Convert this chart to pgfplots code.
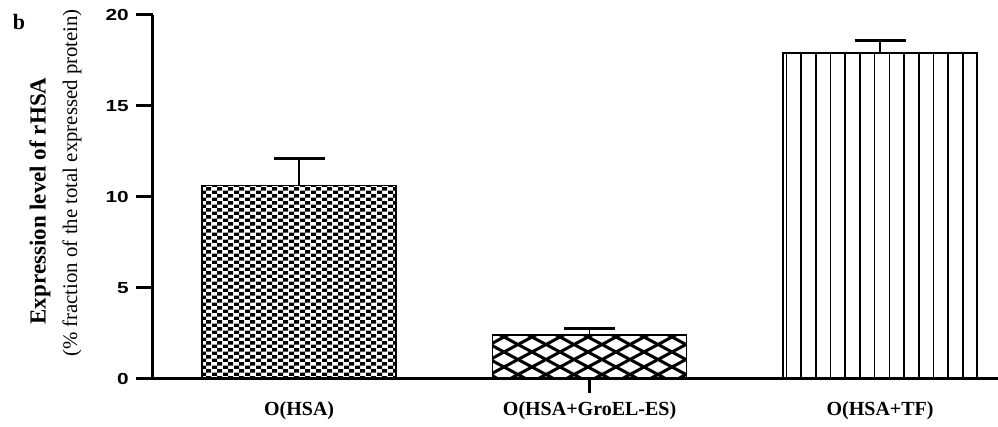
\documentclass[border=0pt]{standalone}
\usepackage{fontspec}
\setmainfont{Liberation Serif}
\newfontfamily\arial{Liberation Sans}
\usepackage{pgfplots}
\pgfplotsset{compat=1.18}
\usetikzlibrary{patterns}

\pgfdeclarepatternformonly{checker}{\pgfqpoint{0pt}{0pt}}{\pgfqpoint{10.6pt}{7.4pt}}{\pgfqpoint{10.6pt}{7.4pt}}{%
  \pgfpathrectangle{\pgfqpoint{0pt}{0pt}}{\pgfqpoint{5.3pt}{3.7pt}}%
  \pgfpathrectangle{\pgfqpoint{5.3pt}{3.7pt}}{\pgfqpoint{5.3pt}{3.7pt}}%
  \pgfusepath{fill}}

\pgfdeclarepatternformonly{diamondhatch}{\pgfqpoint{-2pt}{-2pt}}{\pgfqpoint{30pt}{17pt}}{\pgfqpoint{28pt}{15pt}}{%
  \pgfsetlinewidth{3pt}%
  \pgfpathmoveto{\pgfqpoint{-2pt}{-1.07pt}}\pgfpathlineto{\pgfqpoint{30pt}{16.07pt}}%
  \pgfpathmoveto{\pgfqpoint{-2pt}{16.07pt}}\pgfpathlineto{\pgfqpoint{30pt}{-1.07pt}}%
  \pgfusepath{stroke}}

\pgfdeclarepatternformonly{vlines}{\pgfqpoint{0pt}{-1pt}}{\pgfqpoint{14.7pt}{3pt}}{\pgfqpoint{14.7pt}{2pt}}{%
  \pgfsetlinewidth{1.6pt}%
  \pgfpathmoveto{\pgfqpoint{7.35pt}{-1pt}}\pgfpathlineto{\pgfqpoint{7.35pt}{3pt}}%
  \pgfusepath{stroke}}

\begin{document}
\begin{tikzpicture}
\begin{axis}[
  at={(0,0)}, anchor=south west,
  scale only axis, width=845pt, height=364pt,
  xmin=-0.503, xmax=2.406, ymin=0, ymax=20,
  axis x line*=bottom, axis y line*=left,
  axis line style={line width=3pt, -},
  ytick={0,5,10,15,20},
  xtick={0,1,2},
  xticklabels={O(HSA),O(HSA+GroEL-ES),O(HSA+TF)},
  x tick style={draw=none},
  y tick style={line width=3pt, black},
  tick align=outside,
  major tick length=17pt,
  /pgf/number format/assume math mode=true,
  yticklabel style={font=\arial\bfseries\fontsize{16}{16}\selectfont, xscale=1.3, xshift=-2pt},
  xticklabel style={font=\bfseries\fontsize{20}{20}\selectfont, yshift=-2pt},
  clip=false,
  error bars/y dir=plus, error bars/y explicit,
  error bars/error bar style={line width=1.5pt, black},
  error bars/error mark=|,
  error bars/error mark options={line width=3pt, mark size=25.5pt, black},
]
\addplot[ybar, bar width=194pt, bar shift=0pt, draw=black, line width=1.5pt, pattern=checker]
  coordinates {(0,10.63) +- (0,1.50)};
\addplot[ybar, bar width=194pt, bar shift=0pt, draw=black, line width=1.5pt, pattern=diamondhatch]
  coordinates {(1,2.42) +- (0,0.33)};
\addplot[ybar, bar width=194pt, bar shift=0pt, draw=black, line width=1.5pt, pattern=vlines]
  coordinates {(2,17.90) +- (0,0.70)};
\draw[line width=3pt] (axis cs:1,0) -- ([yshift=-14pt]axis cs:1,0);
\end{axis}
\node[rotate=90, font=\bfseries\fontsize{23}{23}\selectfont] at (-113pt,178pt) {Expression level of rHSA};
\node[rotate=90, font=\fontsize{20.8}{20.8}\selectfont] at (-81pt,196pt) {(\% fraction of the total expressed protein)};
\node[font=\bfseries\fontsize{22}{22}\selectfont] at (-134pt,357pt) {b};
\pgfresetboundingbox
\path (-153pt,-48pt) rectangle (845pt,379pt);
\end{tikzpicture}
\end{document}
